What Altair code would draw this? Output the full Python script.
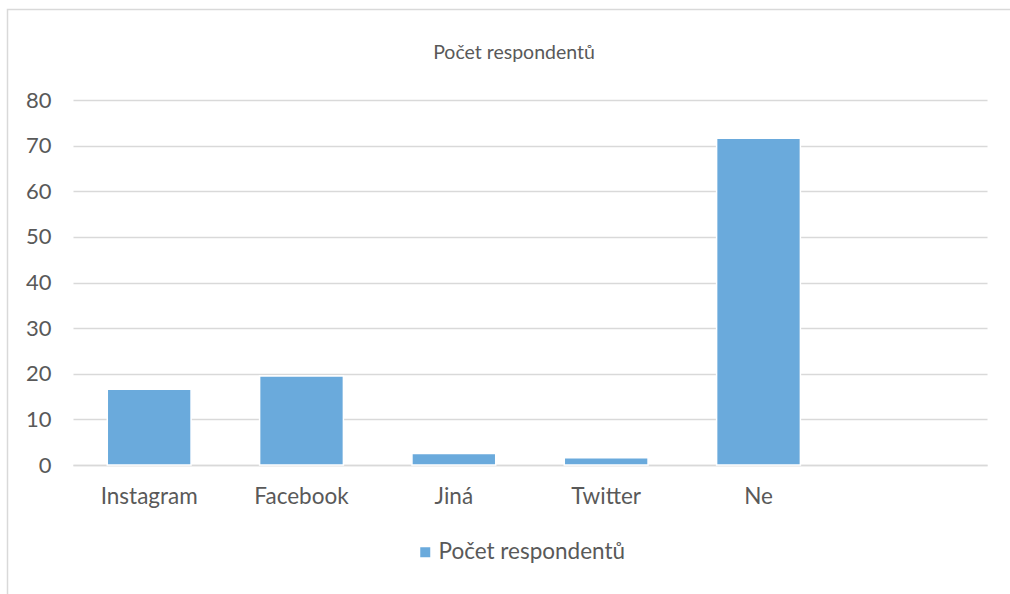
import altair as alt
import pandas as pd

categories = ["Instagram", "Facebook", "Jiná", "Twitter", "Ne"]
values = [16.6, 19.5, 2.5, 1.6, 71.6]
series_name = "Počet respondentů"
extra_slot = [" "]
y_ticks = [0, 10, 20, 30, 40, 50, 60, 70, 80]

df = pd.DataFrame({"kategorie": categories, "pocet": values, "serie": [series_name] * len(categories)})

FONT = "Lato"
GRAY = "#595959"
GRID = "#d9d9d9"
BLUE = "#6aaadc"

bars = alt.Chart(df).mark_bar(stroke="white", strokeWidth=1.5).encode(
    x=alt.X(
        "kategorie:N",
        sort=categories + extra_slot,
        scale=alt.Scale(domain=categories + extra_slot, paddingInner=0.45, paddingOuter=0.225),
        axis=alt.Axis(
            title=None, labelAngle=0, ticks=False, domainColor=GRID, domainWidth=1.5,
            labelFont=FONT, labelFontSize=22.5, labelColor=GRAY, labelPadding=20,
        ),
    ),
    y=alt.Y(
        "pocet:Q",
        scale=alt.Scale(domain=[0, 80], nice=False),
        axis=alt.Axis(
            title=None, values=y_ticks, domain=False, ticks=False, gridColor=GRID, gridWidth=1.5,
            labelFont=FONT, labelFontSize=22, labelColor=GRAY, labelPadding=22,
        ),
    ),
    color=alt.Color(
        "serie:N",
        scale=alt.Scale(range=[BLUE]),
        legend=alt.Legend(
            title=None, orient="none", legendX=341, legendY=441,
            symbolType="square", symbolSize=100, symbolStrokeWidth=0,
            labelFont=FONT, labelFontSize=22.5, labelColor=GRAY, labelOffset=2, labelLimit=400,
        ),
    ),
)

border = alt.Chart(pd.DataFrame({"a": [0]})).mark_rect(
    fill=None, stroke=GRID, strokeWidth=1.5, clip=False
).encode(
    x=alt.value(-65.5), x2=alt.value(960), y=alt.value(-90.5), y2=alt.value(520)
)

title = alt.Chart(pd.DataFrame({"t": [series_name]})).mark_text(
    font=FONT, fontSize=19.5, color=GRAY, align="center", baseline="middle", clip=False
).encode(
    text="t:N", x=alt.value(441), y=alt.value(-47)
)

chart = alt.layer(border, bars, title).properties(
    width=914,
    height=365,
    padding={"left": 73, "top": 100, "right": 23, "bottom": 129},
    autosize=alt.AutoSizeParams(type="none"),
).configure(background="white").configure_view(strokeWidth=0, stroke="transparent")

chart.save("out.html", embed_options={"renderer": "svg", "actions": False})
